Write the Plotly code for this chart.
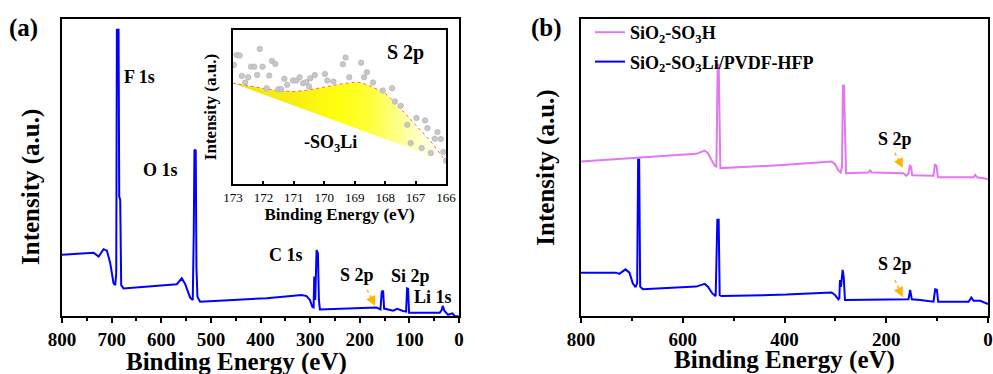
import plotly.graph_objects as go

# ---------------- data ----------------
# Panel (a): survey spectrum of SiO2-SO3Li/PVDF-HFP
a_be = [800, 769.8, 736.3, 726.2, 716.2, 709.5, 702.8, 696.1, 692.7, 690.7, 689.4, 686.0, 684.7, 682.7,
        680.7, 676.0, 635.7, 588.8, 568.7, 558.6, 551.9, 541.8, 536.5, 534.5, 533.1, 530.5, 529.1, 527.1,
        521.7, 454.7, 387.6, 317.2, 307.1, 300.4, 295.7, 293.0, 291.7, 289.7, 287.0, 284.3, 282.3, 280.3,
        220.0, 166.3, 158.3, 155.6, 152.9, 150.9, 132.8, 124.7, 112.7, 106.6, 104.6, 102.6, 100.6, 38.9,
        34.9, 32.9, 29.5, 22.1, 13.4, 8.7, 0]
a_int = [20.6, 20.9, 21.3, 20.0, 22.5, 22.0, 17.8, 11.0, 10.4, 14.4, 96.4, 96.4, 40.2, 39.1,
         10.4, 9.3, 9.9, 10.4, 10.7, 12.7, 10.8, 6.2, 5.4, 27.9, 56.0, 55.7, 16.6, 6.5,
         4.8, 5.4, 6.0, 7.1, 6.7, 5.4, 3.1, 2.9, 13.3, 5.4, 22.2, 21.1, 5.4, 2.2,
         2.5, 2.9, 2.2, 8.2, 8.5, 2.5, 1.8, 2.4, 1.7, 1.5, 9.3, 9.2, 1.1, 1.1,
         2.0, 3.4, 1.8, 0.4, 0.9, 0.0, -0.2]

# Inset: S 2p high-resolution
s_be = [172.97, 172.88, 172.78, 172.71, 172.60, 172.50, 172.41, 172.30, 172.21, 172.12, 172.03, 171.89,
        171.81, 171.72, 171.61, 171.51, 171.42, 171.31, 171.22, 171.03, 170.92, 170.81, 170.70, 170.59,
        170.50, 170.46, 170.31, 169.98, 169.90, 169.70, 169.39, 169.30, 169.18, 168.79, 168.69, 168.60,
        168.40, 168.08, 167.77, 167.68, 167.49, 167.27, 167.16, 166.97, 166.80, 166.69, 166.61, 166.50,
        166.37, 166.28, 166.17, 166.09, 166.00]
s_int = [77.3, 83.8, 83.4, 70.2, 65.9, 69.3, 76.2, 76.2, 70.8, 87.7, 76.2, 62.2,
         70.4, 79.9, 78.0, 61.6, 61.6, 68.3, 64.4, 67.2, 67.2, 69.3, 65.4, 66.1,
         63.3, 68.7, 70.8, 71.5, 67.2, 66.5, 77.8, 82.1, 69.3, 78.8, 69.3, 72.6,
         65.9, 60.7, 62.2, 53.6, 50.8, 38.4, 26.6, 42.8, 23.3, 41.3, 36.3, 20.1,
         29.4, 33.7, 29.2, 20.7, 15.1]
fit_be = [173.0, 172.5, 172.0, 171.5, 171.0, 170.5, 170.0, 169.5, 169.0, 168.8, 168.5, 168.0,
          167.5, 167.0, 166.5, 166.0]
fit_int = [65.4, 63.7, 62.2, 60.5, 60.0, 61.1, 62.9, 64.8, 66.1, 65.9, 63.7, 59.0,
           49.2, 38.4, 27.6, 14.7]
bg_be = [166.0, 173.0]
bg_int = [14.7, 65.4]

# Panel (b)
h_be = [800, 724.5, 658.8, 573.4, 557.0, 550.4, 543.8, 537.2, 533.9, 532.6, 531.3, 529.4, 528.1, 526.1,
        461.7, 396.1, 307.4, 300.8, 294.2, 289.6, 287.0, 285.1, 283.1, 281.1, 279.1, 235.1, 231.8, 228.6,
        166.2, 160.9, 156.3, 153.7, 151.1, 149.1, 107.1, 104.4, 101.1, 98.5, 28.2, 25.0, 21.7, 0]
h_int = [52.0, 52.8, 53.7, 54.6, 55.7, 54.8, 52.6, 50.6, 50.3, 70.0, 84.6, 84.6, 60.0, 49.8,
         50.3, 50.9, 52.0, 51.2, 49.0, 48.3, 50.3, 77.5, 77.5, 55.0, 48.1, 48.3, 49.0, 48.3,
         48.1, 47.2, 47.9, 50.6, 50.3, 47.4, 47.2, 50.9, 50.6, 46.7, 46.7, 47.5, 46.7, 46.1]
l_be = [800, 731.0, 724.5, 712.6, 704.7, 698.2, 692.9, 689.6, 687.7, 685.7, 683.7, 678.5, 573.4, 557.0,
        550.4, 541.9, 535.3, 532.0, 529.4, 527.4, 524.1, 461.7, 396.1, 307.4, 300.8, 294.2, 292.2, 291.0,
        289.0, 285.7, 283.7, 281.1, 166.2, 156.3, 153.0, 149.7, 133.3, 107.1, 103.8, 100.5, 97.9, 38.1,
        32.8, 28.2, 15.1, 5.3, 0]
l_int = [14.6, 14.6, 14.2, 15.7, 14.6, 11.0, 9.7, 11.0, 52.6, 52.6, 9.9, 9.0, 9.9, 10.8,
         9.9, 7.6, 6.7, 32.4, 32.4, 7.0, 6.7, 7.0, 7.2, 7.9, 7.1, 5.6, 6.0, 12.1,
         9.8, 15.5, 13.3, 5.4, 5.7, 5.6, 8.8, 5.6, 5.4, 4.8, 9.0, 8.8, 4.8, 4.8,
         6.2, 5.1, 5.1, 4.3, 4.0]

a_ticks = [800, 700, 600, 500, 400, 300, 200, 100, 0]
b_ticks = [800, 600, 400, 200, 0]
inset_ticks = [173, 172, 171, 170, 169, 168, 167, 166]

a_peak_labels = ["F 1s", "O 1s", "C 1s", "S 2p", "Si 2p", "Li 1s"]
a_peak_x = [643, 602, 349, 205, 97, 52]
a_peak_y = [80.5, 49.2, 20.5, 13.8, 13.5, 6.4]

# ---------------- figure ----------------
FONT = "Liberation Serif"
BLUE = "#0000FF"
PINK = "#E377F0"
ORANGE = "#FFB400"

fig = go.Figure()

# panel (a)
fig.add_trace(go.Scatter(x=a_be, y=a_int, mode="lines", line=dict(color=BLUE, width=2),
                         showlegend=False, xaxis="x", yaxis="y"))
# inset
fig.add_trace(go.Scatter(x=fit_be + bg_be, y=fit_int + bg_int, mode="lines", fill="toself",
                         line=dict(width=0, color="rgba(0,0,0,0)"),
                         fillgradient=dict(type="horizontal", start=166, stop=173,
                                           colorscale=[[0, "#FFFFFF"], [0.1, "#FFFFD6"], [0.22, "#FFFF90"],
                                                       [0.36, "#FFFF38"], [0.5, "#FFFF10"], [0.72, "#F8EE10"],
                                                       [1, "#F0E224"]]),
                         showlegend=False, xaxis="x3", yaxis="y3", hoverinfo="skip"))
fig.add_trace(go.Scatter(x=fit_be, y=fit_int, mode="lines", line=dict(color="#FF6060", width=1, dash="dot"),
                         showlegend=False, xaxis="x3", yaxis="y3"))
fig.add_trace(go.Scatter(x=s_be, y=s_int, mode="markers",
                         marker=dict(color="#C8C8C8", size=5.5, line=dict(color="#ADADAD", width=0.6)),
                         showlegend=False, xaxis="x3", yaxis="y3"))

# panel (b)
fig.add_trace(go.Scatter(x=h_be, y=h_int, mode="lines", line=dict(color=PINK, width=2),
                         name="SiO<sub>2</sub>-SO<sub>3</sub>H", legendgroup="g1", xaxis="x2", yaxis="y2"))
fig.add_trace(go.Scatter(x=l_be, y=l_int, mode="lines", line=dict(color=BLUE, width=2),
                         name="SiO<sub>2</sub>-SO<sub>3</sub>Li/PVDF-HFP", legendgroup="g2",
                         xaxis="x2", yaxis="y2"))

W, H = 993, 374
def px_x(p):
    return p / W
def px_y(p):
    return (H - p) / H

axis_common = dict(showline=True, linecolor="black", linewidth=2, mirror=True, showgrid=False,
                   zeroline=False, automargin=False)
tickfont = dict(family=FONT, size=19, color="black", weight="bold")
titlefont = dict(family=FONT, size=25, color="black", weight="bold")

fig.update_layout(
    width=W, height=H, margin=dict(l=0, r=0, t=0, b=0),
    template="none", paper_bgcolor="white", plot_bgcolor="white",
    font=dict(family=FONT, color="black"),
    xaxis=dict(domain=[px_x(62), px_x(459)], range=[800, 0], tickvals=a_ticks, ticks="outside",
               ticklen=5, tickwidth=2, tickcolor="black", tickfont=tickfont,
               minor=dict(dtick=50, ticks="outside", ticklen=3, tickwidth=2, tickcolor="black"),
               anchor="y", **axis_common),
    yaxis=dict(domain=[px_y(316), px_y(19)], range=[0, 100], showticklabels=False, ticks="",
               anchor="x", **axis_common),
    xaxis2=dict(domain=[px_x(581), px_x(988)], range=[800, 0], tickvals=b_ticks, ticks="outside",
                ticklen=5, tickwidth=2, tickcolor="black", tickfont=tickfont,
                minor=dict(dtick=100, ticks="outside", ticklen=3, tickwidth=2, tickcolor="black"),
                title=dict(text="Binding Energy (eV)", font=titlefont, standoff=5), anchor="y2",
                **axis_common),
    yaxis2=dict(domain=[px_y(316), px_y(19)], range=[0, 100], showticklabels=False, ticks="",
                title=dict(text="Intensity (a.u.)", font=titlefont, standoff=17), anchor="x2",
                **axis_common),
    xaxis3=dict(domain=[px_x(233), px_x(446)], range=[173, 166], tickvals=inset_ticks, ticks="inside",
                ticklen=3, tickwidth=1.5, tickcolor="black",
                tickfont=dict(family=FONT, size=13, color="black"),
                title=dict(text="Binding Energy (eV)", font=dict(family=FONT, size=17, color="black", weight="bold"),
                           standoff=1), anchor="y3",
                **axis_common),
    yaxis3=dict(domain=[px_y(184), px_y(30)], range=[0, 100], showticklabels=False, ticks="",
                title=dict(text="Intensity (a.u.)", font=dict(family=FONT, size=17, color="black", weight="bold"),
                           standoff=10), anchor="x3",
                **axis_common),
    legend=dict(x=px_x(590), y=px_y(14), xanchor="left", yanchor="top", bgcolor="rgba(0,0,0,0)",
                font=dict(family=FONT, size=18, color="black", weight="bold"), tracegroupgap=3,
                itemwidth=30),
)

annotations = []
# panel (a) axis titles (offset from axis centre as in the original)
annotations.append(dict(x=px_x(236), y=px_y(362), xref="paper", yref="paper", text="Binding Energy (eV)",
                        xanchor="center", yanchor="middle", showarrow=False, font=titlefont))
annotations.append(dict(x=px_x(31), y=px_y(187), xref="paper", yref="paper", text="Intensity (a.u.)",
                        xanchor="center", yanchor="middle", textangle=-90, showarrow=False, font=titlefont))
for t, x, y in zip(a_peak_labels, a_peak_x, a_peak_y):
    annotations.append(dict(x=x, y=y, xref="x", yref="y", text=t, showarrow=False,
                            font=dict(family=FONT, size=18, color="black", weight="bold")))
# inset labels
annotations.append(dict(x=167.33, y=85.7, xref="x3", yref="y3", text="S 2p", showarrow=False,
                        font=dict(family=FONT, size=20, color="black", weight="bold")))
annotations.append(dict(x=169.8, y=26.6, xref="x3", yref="y3", text="-SO<sub>3</sub>Li", showarrow=False,
                        font=dict(family=FONT, size=18, color="black", weight="bold")))
# panel (b) labels
for yy in (59.6, 17.5):
    annotations.append(dict(x=183, y=yy, xref="x2", yref="y2", text="S 2p", showarrow=False,
                            font=dict(family=FONT, size=18, color="black", weight="bold")))
# panel letters
annotations.append(dict(x=px_x(7), y=px_y(28), xref="paper", yref="paper", text="(a)", showarrow=False,
                        xanchor="left", yanchor="middle",
                        font=dict(family=FONT, size=25, color="black", weight="bold")))
annotations.append(dict(x=px_x(529), y=px_y(28), xref="paper", yref="paper", text="(b)", showarrow=False,
                        xanchor="left", yanchor="middle",
                        font=dict(family=FONT, size=25, color="black", weight="bold")))

# orange dashed arrows (tail -> head)
arrows = [("x", "y", 185, 8.75, 169, 3.4),
          ("x2", "y2", 183, 54.9, 167.5, 49.8),
          ("x2", "y2", 183, 12.1, 167.5, 6.4)]
shapes = []
for xr, yr, x0, y0, x1, y1 in arrows:
    shapes.append(dict(type="line", xref=xr, yref=yr, x0=x0, y0=y0, x1=x1, y1=y1,
                       line=dict(color=ORANGE, width=1.5, dash="dot")))
    annotations.append(dict(x=x1, y=y1, xref=xr, yref=yr, ax=-2.5, ay=-5, text="", showarrow=True,
                            arrowhead=2, arrowsize=1.3, arrowwidth=1.5, arrowcolor=ORANGE))

fig.update_layout(annotations=annotations, shapes=shapes)
fig.write_html("out.html", config={"displayModeBar": False},
               post_script="document.body.style.margin='0';")
